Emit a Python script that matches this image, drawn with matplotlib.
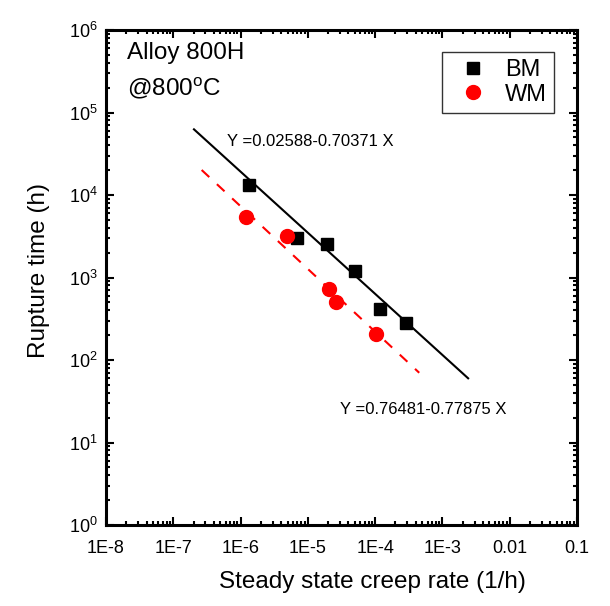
import matplotlib
matplotlib.use("Agg")
import matplotlib.pyplot as plt
import matplotlib.ticker as mticker
import numpy as np

plt.rcParams['font.family'] = ['Liberation Sans', 'DejaVu Sans']
plt.rcParams['mathtext.default'] = 'regular'

# base metal (BM) and weld metal (WM) rupture data
bm_rate = [1.33e-6, 6.8e-6, 1.9e-5, 5.0e-5, 1.18e-4, 2.87e-4]
bm_time = [13200, 2990, 2520, 1210, 415, 283]
wm_rate = [1.19e-6, 4.94e-6, 2.06e-5, 2.59e-5, 1.03e-4]
wm_time = [5460, 3210, 726, 509, 207]

# fitted lines, end points
bm_fit_rate = [2.03e-7, 2.41e-3]
bm_fit_time = [62500, 60]
wm_fit_rate = [2.64e-7, 4.52e-4]
wm_fit_time = [20100, 70]

bm_eq = "Y =0.02588-0.70371 X"
wm_eq = "Y =0.76481-0.77875 X"

x_ticks = [1e-8, 1e-7, 1e-6, 1e-5, 1e-4, 1e-3, 1e-2, 1e-1]
x_ticklabels = ["1E-8", "1E-7", "1E-6", "1E-5", "1E-4", "1E-3", "0.01", "0.1"]

fig = plt.figure(figsize=(6.1, 6.06), dpi=100)
ax = fig.add_axes([106/610, 1 - 525/606, 471/610, 495/606])

ax.plot(bm_fit_rate, bm_fit_time, color='black', lw=1.5, zorder=2)
ax.plot(wm_fit_rate, wm_fit_time, color='red', lw=1.5, ls=(0, (5, 5)), zorder=2)
ax.plot(bm_rate, bm_time, 's', color='black', ms=8.5, ls='none', label='BM', zorder=3)
ax.plot(wm_rate, wm_time, 'o', color='red', ms=10, ls='none', label='WM', zorder=3)

ax.set_xscale('log')
ax.set_yscale('log')
ax.set_xlim(1e-8, 0.1)
ax.set_ylim(1, 1e6)

ax.set_xticks(x_ticks)
ax.set_xticklabels(x_ticklabels)
ax.xaxis.set_minor_locator(mticker.LogLocator(base=10, subs=np.arange(2, 10), numticks=20))
ax.yaxis.set_major_locator(mticker.LogLocator(base=10, numticks=10))
ax.yaxis.set_minor_locator(mticker.LogLocator(base=10, subs=np.arange(2, 10), numticks=20))
ax.xaxis.set_minor_formatter(mticker.NullFormatter())
ax.yaxis.set_minor_formatter(mticker.NullFormatter())

for s in ax.spines.values():
    s.set_linewidth(2.2)
ax.tick_params(which='both', direction='in', top=True, right=True, width=1.5)
ax.tick_params(which='major', length=6)
ax.tick_params(which='minor', length=3)
ax.tick_params(axis='x', which='major', labelsize=13, pad=11)
ax.tick_params(axis='y', which='major', labelsize=13, pad=6)

ax.set_xlabel("Steady state creep rate (1/h)", fontsize=17.5)
ax.xaxis.set_label_coords(0.566, -0.093)
ax.set_ylabel("Rupture time (h)", fontsize=17.5)
ax.yaxis.set_label_coords(-0.119, 0.515)

ax.text(0.0446, 0.9408, "Alloy 800H", fontsize=17.5, transform=ax.transAxes, va='baseline')
ax.text(0.0446, 0.8687, "@800$^{o}$C", fontsize=17.5, transform=ax.transAxes, va='baseline')

ax.text(227/610, 1 - 141.7/606, bm_eq, fontsize=12, transform=fig.transFigure, va='center')
ax.text(340/610, 1 - 409.3/606, wm_eq, fontsize=12, transform=fig.transFigure, va='center')

leg = ax.legend(loc='upper right', bbox_to_anchor=(554/610, 1 - 51.7/606),
                bbox_transform=fig.transFigure, borderaxespad=0, fontsize=17,
                frameon=True, fancybox=False, handletextpad=0.35, borderpad=0.3,
                labelspacing=0.12, handlelength=2.0, markerscale=1.0)
leg.get_frame().set_edgecolor('black')
leg.get_frame().set_linewidth(1.0)

fig.savefig("out.png", dpi=100)
